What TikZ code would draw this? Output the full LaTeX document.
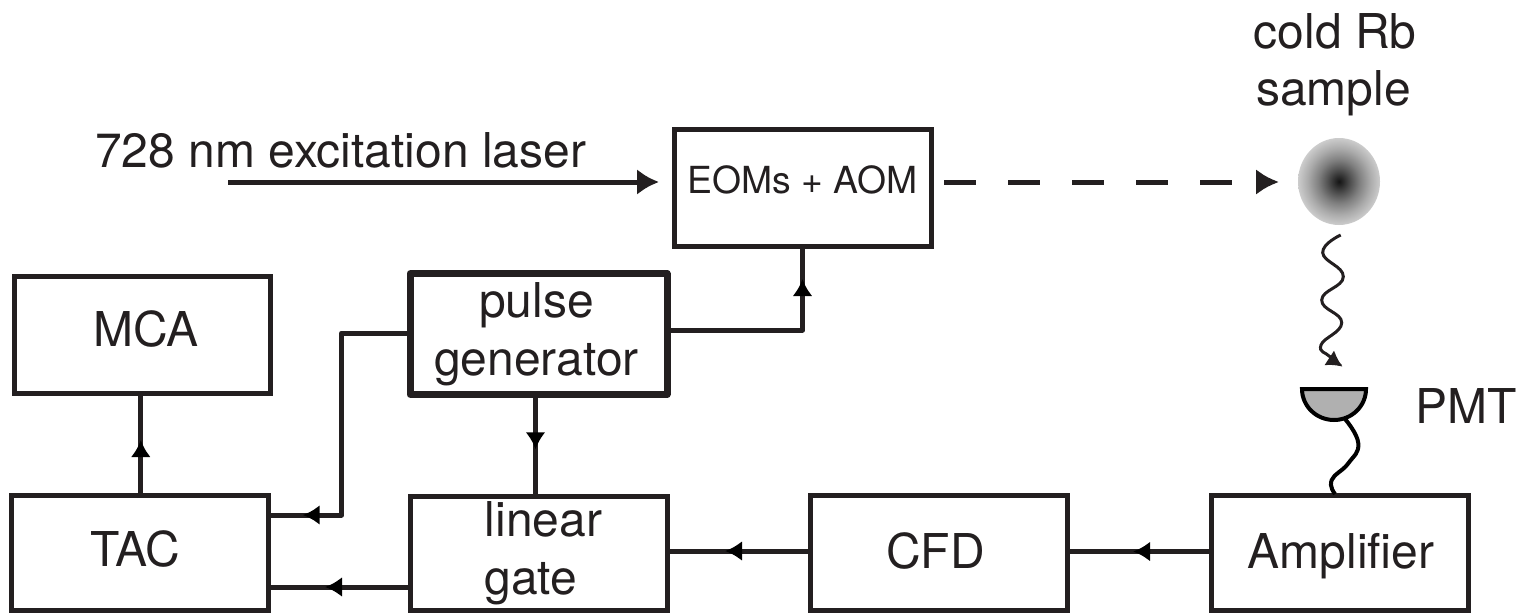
\documentclass[tikz,border=0pt]{standalone}
\usepackage{fontspec}
\setmainfont{TeX Gyre Heros}
\usepackage{color}
\definecolor{inkblack}{RGB}{35,31,32}
\definecolor{cupgray}{RGB}{176,176,176}
\usepackage{tikz}
\usetikzlibrary{arrows.meta,calc,decorations.markings,shapes.geometric}
\newcommand{\boxfont}{\fontsize{48}{58}\selectfont}
\newcommand{\smallboxfont}{\fontsize{37.3}{44}\selectfont}
\pgfdeclareradialshading{coldcloud}{\pgfpoint{0bp}{0bp}}{color(0bp)=(black!92); color(3bp)=(black!82); color(7bp)=(black!68); color(12.5bp)=(black!50); color(19bp)=(black!33); color(25bp)=(black!20); color(50bp)=(black!20)}
\tikzstyle{block}=[draw=inkblack,rectangle,line width=5pt,minimum width=257pt,minimum height=115pt,inner sep=0pt,outer sep=0pt,align=center,text=inkblack,font=\boxfont]
\tikzstyle{oneline}=[text height=34pt,text depth=#1]
\tikzstyle{wire}=[draw=inkblack,line width=5pt,line join=round]
\tikzstyle{midarrow}=[postaction={decorate,decoration={markings,mark=at position #1 with {\arrow[black]{Latex[length=17pt,width=20pt]}}}}]
\tikzstyle{caption}=[inner sep=0pt,text=inkblack,font=\boxfont,align=center]
\begin{document}
\begin{tikzpicture}[x=1pt,y=-1pt]
\useasboundingbox (0,0) rectangle (1522,613);
\node [block,oneline=11pt,minimum width=256.5pt,minimum height=117pt] (mca) at (142.25,334.5) {\hspace*{8pt}MCA};
\node [block,oneline=7pt,minimum width=256.5pt] (tac) at (139.8,552.5) {TAC\hspace*{9pt}};
\node [block,line width=7pt,line join=round,minimum height=120.6pt] (pulse) at (538.5,334) {pulse\hspace*{4pt}\\generator\hspace*{4pt}};
\node [block,minimum height=114pt] (gate) at (538.5,553) {\hspace*{10pt}linear\\gate\hspace*{15pt}};
\node [block,font=\smallboxfont,text height=26.6pt,text depth=15.6pt,minimum height=117pt] (eom) at (802.5,187.5) {EOMs + AOM};
\node [block,oneline=3pt] (cfd) at (938.5,552.5) {CFD\hspace*{6pt}};
\node [block,oneline=3pt] (amp) at (1339.5,552.5) {\hspace*{3pt}Amplifier};
\node [ellipse,minimum width=82pt,minimum height=87pt,inner sep=0pt,outer sep=0pt,shading=coldcloud] (sample) at (1339,181.5) {};
\node [caption,anchor=base] (coldrb) at (1335,48) {cold Rb};
\node [caption,anchor=base] (samplelabel) at (1333.5,105) {sample};
\node [caption,anchor=base west] (laserlabel) at (95,167) {728 nm excitation laser};
\node [caption,anchor=base west] (pmtlabel) at (1415,423) {PMT};
\coordinate (laserstart) at (228,182);
\coordinate (pmtleft) at (1302,389);
\coordinate (pmtwire) at (1345,419);
\coordinate (ampwire) at (1335,494);
\coordinate (wavestart) at (1340.7,235);
\coordinate (wavetip) at (1342.7,366.7);
\filldraw [draw=black,fill=cupgray,line width=4pt] (pmtleft) -- ++(64,0) arc [start angle=0,end angle=-180,x radius=32pt,y radius=31pt] -- cycle;
\draw [wire,midarrow=55pt] ([xshift=1pt]tac.north) -- ([xshift=1pt]tac.north |- mca.south);
\draw [wire,midarrow=289.3pt] ([yshift=1pt]pulse.west) -- ++(-68.5,0) |- ([yshift=37.5pt]tac.east);
\draw [wire,midarrow=186.5pt] ([yshift=4pt]pulse.east) -| (eom.south);
\draw [wire,midarrow=55pt] ([xshift=-3pt]pulse.south) -- ([xshift=-3pt]gate.north);
\draw [wire,midarrow=85pt] ([yshift=-34pt]gate.west) -- ([yshift=-34pt]gate.west -| tac.east);
\draw [wire,midarrow=85pt] ([yshift=1.5pt]cfd.west) -- ([yshift=1.5pt]cfd.west -| gate.east);
\draw [wire,midarrow=78pt] ([yshift=1pt]amp.west) -- ([yshift=1pt]amp.west -| cfd.east);
\draw [wire,-{Latex[length=22pt,width=26pt]},shorten >=15pt] (laserstart) -- (laserstart -| eom.west);
\draw [wire,dash pattern=on 32pt off 32pt,-{Latex[length=23pt,width=26pt]},shorten <=13pt,shorten >=19pt] ([yshift=5.5pt]eom.east) -- ([yshift=5.5pt]eom.east -| sample.west);
\draw [inkblack,line width=3pt,-{Latex[length=16pt,width=18pt]}] plot [smooth,tension=0.8] coordinates {(wavestart) (1322.7,252.7) (1343.3,276.7) (1321.7,300) (1341.7,322.7) (1321,345) (1330,356.7) (wavetip)};
\draw [black,line width=4pt] plot [smooth,tension=0.8] coordinates {(pmtwire) (1358.3,443.3) (1348.3,463.3) (1331.7,480) (ampwire)};
\end{tikzpicture}
\end{document}
